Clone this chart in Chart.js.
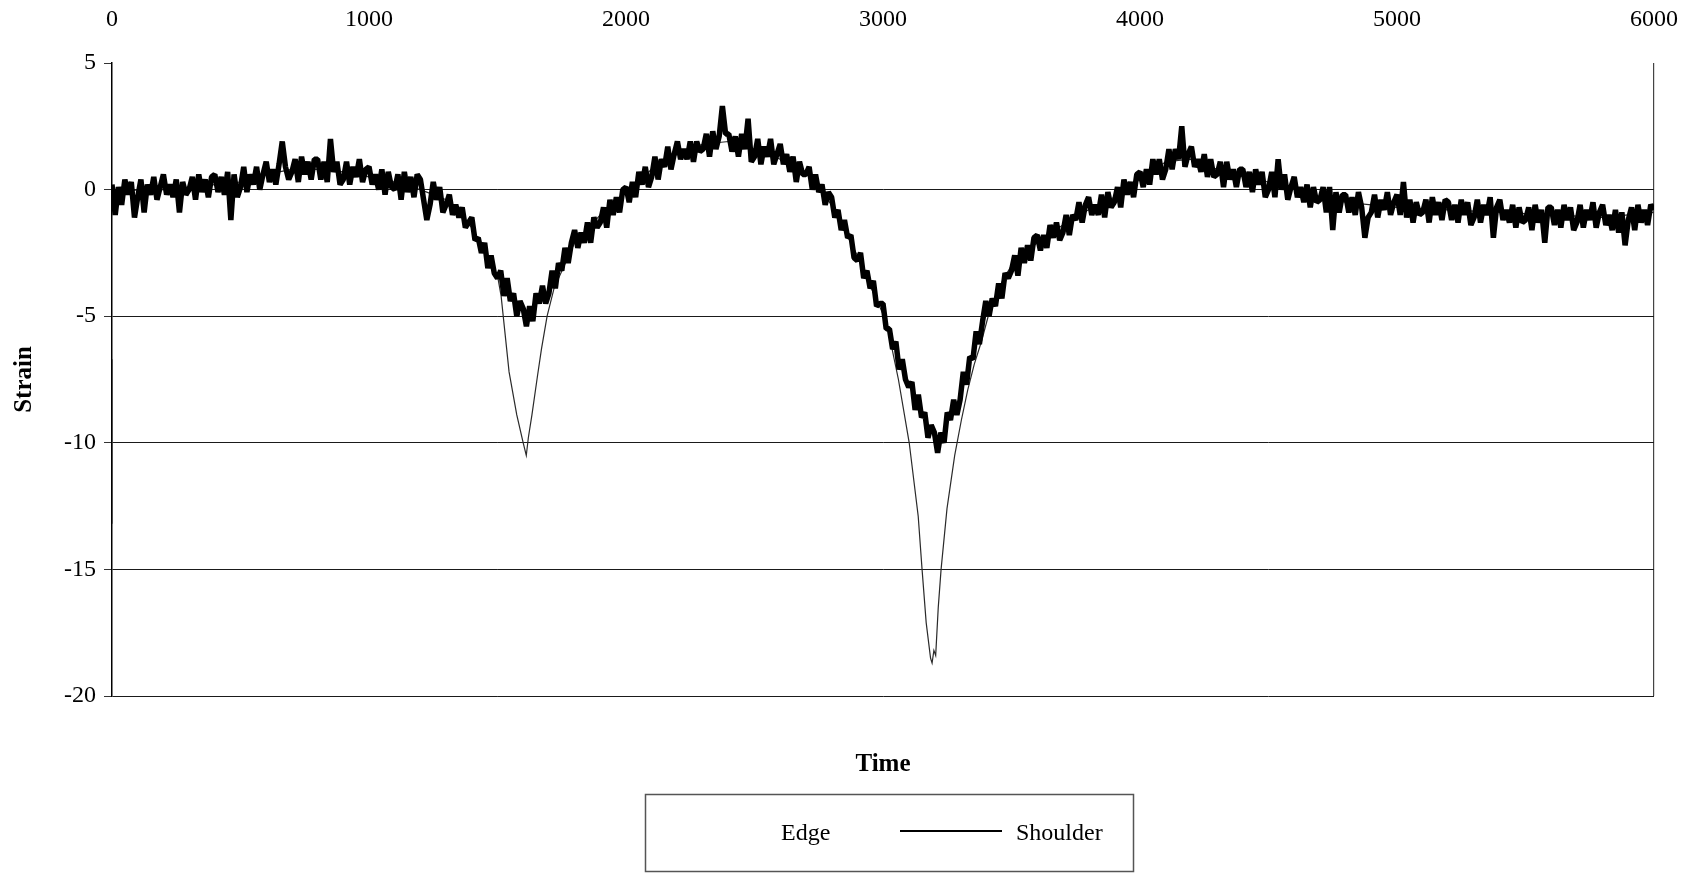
<!DOCTYPE html>
<html lang="en">
<head>
  <meta charset="UTF-8">
  <title>Strain vs Time</title>
  <script src="https://cdn.jsdelivr.net/npm/chart.js"></script>
  <style>
    body { margin: 0; background: #fff; }
    canvas { display: block; }
  </style>
</head>
<body>
  <canvas id="graph" width="1707" height="873"></canvas>

  <script>
    // Shoulder gauge, one reading every 12.5 time units from 0 to 6000 (8 per row = 100 units)
    const shoulderStep = 12.5;
    const shoulderStrain = [
      0.2, -1.0, 0.1, -0.6, 0.4, -0.2, 0.3, -1.1,
      -0.3, 0.4, -0.9, 0.2, -0.2, 0.5, -0.4, 0.1,
      0.6, -0.2, 0.2, -0.3, 0.4, -0.9, 0.3, -0.2,
      0.0, 0.5, -0.4, 0.6, -0.1, 0.4, -0.3, 0.5,
      0.6, -0.1, 0.5, -0.2, 0.7, -1.2, 0.6, -0.3,
      0.1, 0.9, -0.1, 0.6, 0.2, 0.9, 0.0, 0.6,
      1.1, 0.3, 0.8, 0.2, 1.0, 1.9, 0.9, 0.4,
      0.7, 1.2, 0.3, 1.3, 0.6, 1.1, 0.4, 1.2,
      1.2, 0.4, 1.1, 0.3, 2.0, 0.7, 1.1, 0.2,
      0.4, 1.1, 0.2, 0.9, 0.5, 1.2, 0.3, 0.8,
      0.9, 0.2, 0.6, 0.0, 0.8, -0.2, 0.7, 0.1,
      0.0, 0.6, -0.4, 0.7, -0.1, 0.5, -0.3, 0.6,
      0.4, -0.4, -1.2, -0.6, 0.3, -0.4, 0.1, -0.9,
      -0.6, -0.2, -1.0, -0.6, -1.1, -0.7, -1.5, -1.3,
      -1.1, -2.0, -1.9, -2.5, -2.1, -3.1, -2.6, -3.3,
      -3.5, -3.2, -4.2, -3.5, -4.4, -4.1, -5.0, -4.4,
      -4.7, -5.4, -4.6, -5.2, -4.1, -4.5, -3.8, -4.5,
      -4.1, -3.2, -3.9, -2.9, -3.2, -2.3, -2.9, -2.1,
      -1.6, -2.3, -1.7, -2.1, -1.3, -2.1, -1.1, -1.5,
      -1.3, -0.7, -1.5, -0.4, -1.0, -0.3, -0.9, 0.0,
      0.1, -0.5, 0.3, -0.3, 0.7, 0.2, 0.9, 0.1,
      0.5, 1.3, 0.4, 1.2, 0.9, 1.7, 0.8, 1.4,
      1.9, 1.2, 1.6, 1.2, 1.9, 1.1, 1.9, 1.5,
      1.6, 2.2, 1.3, 2.3, 1.6, 2.1, 3.3, 2.2,
      2.2, 1.5, 2.1, 1.3, 2.2, 1.6, 2.8, 1.1,
      1.3, 2.0, 1.0, 1.7, 1.3, 2.0, 1.0, 1.4,
      1.8, 1.0, 1.4, 0.7, 1.3, 0.3, 1.1, 0.6,
      0.6, 0.9, 0.0, 0.6, -0.1, 0.2, -0.6, -0.1,
      -0.3, -1.1, -0.8, -1.6, -1.2, -1.9, -1.8, -2.7,
      -2.8, -2.5, -3.5, -3.2, -3.9, -3.6, -4.6, -4.5,
      -4.5, -5.5, -5.5, -6.3, -6.0, -7.1, -6.7, -7.5,
      -7.8, -7.6, -8.7, -8.1, -9.0, -8.8, -9.8, -9.3,
      -9.6, -10.4, -9.6, -10.0, -8.8, -9.1, -8.3, -8.9,
      -8.3, -7.2, -7.7, -6.6, -6.7, -5.6, -6.1, -5.2,
      -4.4, -5.0, -4.3, -4.6, -3.7, -4.3, -3.3, -3.5,
      -3.2, -2.6, -3.4, -2.3, -2.9, -2.2, -2.8, -1.9,
      -1.8, -2.4, -1.8, -2.3, -1.4, -1.9, -1.3, -2.0,
      -1.7, -1.0, -1.8, -1.0, -1.2, -0.5, -1.3, -0.6,
      -0.3, -1.0, -0.6, -1.0, -0.2, -1.1, -0.1, -0.7,
      -0.5, 0.1, -0.7, 0.4, -0.2, 0.3, -0.3, 0.6,
      0.7, 0.1, 0.8, 0.2, 1.2, 0.6, 1.2, 0.4,
      0.8, 1.6, 0.8, 1.6, 1.2, 2.5, 0.9, 1.4,
      1.7, 0.9, 1.2, 0.7, 1.4, 0.5, 1.2, 0.5,
      0.6, 1.1, 0.1, 1.1, 0.4, 0.8, 0.1, 0.8,
      0.8, 0.1, 0.7, -0.1, 0.8, 0.2, 0.7, -0.3,
      0.0, 0.7, -0.3, 1.2, 0.0, 0.6, -0.4, 0.1,
      0.5, -0.3, 0.1, -0.5, 0.2, -0.7, 0.1, -0.5,
      -0.4, 0.1, -0.9, 0.1, -1.6, -0.1, -0.9, -0.2,
      -0.2, -0.9, -0.3, -1.0, -0.1, -0.7, -1.9, -1.1,
      -0.9, -0.2, -1.1, -0.4, -0.8, -0.1, -1.0, -0.5,
      -0.2, -1.0, 0.3, -1.1, -0.4, -1.3, -0.5, -1.0,
      -0.9, -0.4, -1.3, -0.3, -1.0, -0.5, -1.2, -0.4,
      -0.5, -1.2, -0.6, -1.3, -0.4, -1.0, -0.5, -1.4,
      -1.1, -0.4, -1.3, -0.6, -1.0, -0.3, -1.9, -0.7,
      -0.4, -1.2, -0.8, -1.3, -0.6, -1.5, -0.7, -1.3,
      -1.2, -0.7, -1.6, -0.6, -1.3, -0.8, -2.1, -0.7,
      -0.7, -1.4, -0.8, -1.5, -0.6, -1.2, -0.7, -1.6,
      -1.3, -0.6, -1.5, -0.8, -1.2, -0.5, -1.5, -0.9,
      -0.6, -1.4, -1.0, -1.6, -0.8, -1.7, -0.9, -2.2,
      -1.2, -0.7, -1.6, -0.6, -1.3, -0.8, -1.4, -0.6,
      -0.8
    ];

    // Edge gauge, irregular sampling (denser through the two troughs)
    const edgeTime = [
      0, 0, 1, 10, 100, 200, 300, 400, 500, 600, 700, 800, 900, 1000, 1100, 1200,
      1300, 1400, 1450, 1500, 1514, 1545, 1575, 1600, 1612, 1620, 1634, 1655, 1671,
      1693, 1720, 1760, 1800, 1900, 2000, 2100, 2200, 2300, 2400, 2500, 2600, 2700,
      2800, 2900, 2950, 3013, 3060, 3102, 3137, 3152, 3168, 3185, 3191, 3198, 3205,
      3215, 3226, 3249, 3279, 3305, 3330, 3355, 3383, 3420, 3470, 3500, 3600, 3700,
      3800, 3900, 4000, 4100, 4200, 4300, 4400, 4500, 4600, 4700, 4800, 4900, 5000,
      5200, 5400, 5600, 5800, 6000
    ];
    const edgeStrain = [
      -13.2, -6.7, null, -0.2, 0.0, 0.0, 0.1, 0.2, 0.3, 0.6, 0.8, 0.8, 0.7, 0.5, 0.3, 0.0,
      -0.4, -1.5, -2.4, -3.4, -4.2, -7.2, -8.9, -10.0, -10.5, -9.8, -8.9, -7.4, -6.3,
      -5.0, -3.9, -3.0, -2.1, -1.0, -0.1, 0.8, 1.4, 1.8, 1.9, 1.6, 1.2, 0.7,
      -0.6, -2.6, -3.8, -5.2, -7.5, -10.0, -12.9, -15.0, -17.1, -18.5, -18.7, -18.2, -18.4,
      -16.5, -15.0, -12.6, -10.5, -9.1, -7.9, -6.9, -6.0, -4.6, -3.5, -3.0, -2.1, -1.4,
      -0.8, -0.3, 0.4, 1.1, 1.2, 0.8, 0.5, 0.3, 0.0, -0.3, -0.5, -0.6, -0.7,
      -0.8, -0.9, -1.0, -1.1, -0.9
    ];

    const seriesNames = ["Edge", "Shoulder"];
    const timeTicks = [0, 1000, 2000, 3000, 4000, 5000, 6000];
    const strainTicks = [5, 0, -5, -10, -15, -20];

    const serif = "'Liberation Serif', 'Times New Roman', serif";

    const shoulderPoints = shoulderStrain.map((v, i) => ({ x: i * shoulderStep, y: v }));
    const edgePoints = edgeTime.map((t, i) => ({ x: t, y: edgeStrain[i] }));

    // Boxed legend under the "Time" title
    const legendBox = {
      id: "legendBox",
      afterDraw(chart) {
        const ctx = chart.ctx;
        ctx.save();
        ctx.strokeStyle = "#555";
        ctx.lineWidth = 1.5;
        ctx.strokeRect(645.5, 794.5, 488, 77);

        ctx.font = "24px " + serif;
        ctx.fillStyle = "#000";
        ctx.textBaseline = "middle";
        ctx.fillText(seriesNames[0], 781, 834);

        ctx.strokeStyle = "#000";
        ctx.lineWidth = 2;
        ctx.beginPath();
        ctx.moveTo(900, 831);
        ctx.lineTo(1002, 831);
        ctx.stroke();
        ctx.fillText(seriesNames[1], 1016, 834);
        ctx.restore();
      }
    };

    const ctx = document.getElementById("graph").getContext("2d");
    const chart = new Chart(ctx, {
      type: "line",
      data: {
        datasets: [
          {
            label: seriesNames[0],
            data: edgePoints,
            borderColor: "#2a2a2a",
            borderWidth: 1.2,
            pointRadius: 0,
            spanGaps: false,
            order: 1
          },
          {
            label: seriesNames[1],
            data: shoulderPoints,
            borderColor: "#000",
            borderWidth: 5.5,
            borderJoinStyle: "bevel",
            pointRadius: 0,
            order: 0
          }
        ]
      },
      options: {
        responsive: false,
        animation: false,
        events: [],
        layout: { padding: 0 },
        plugins: {
          legend: { display: false },
          tooltip: { enabled: false }
        },
        scales: {
          x: {
            type: "linear",
            position: "top",
            min: 0,
            max: 6000,
            afterBuildTicks: axis => { axis.ticks = timeTicks.map(v => ({ value: v })); },
            afterFit: axis => { axis.height = 63; },
            ticks: {
              color: "#000",
              font: { family: serif, size: 24 },
              padding: 29,
              maxRotation: 0,
              callback: v => String(v)
            },
            grid: {
              drawTicks: false,
              color: c => (c.tick && c.tick.value === 6000 ? "#444" : "rgba(0,0,0,0)"),
              lineWidth: 1.2
            },
            border: { display: false }
          },
          xTitle: {
            type: "linear",
            position: "bottom",
            afterFit: axis => { axis.height = 177; },
            ticks: { display: false },
            grid: { display: false },
            border: { display: false },
            title: {
              display: true,
              text: "Time",
              color: "#000",
              font: { family: serif, size: 25, weight: "bold" },
              padding: { top: 0, bottom: 93 }
            }
          },
          y: {
            min: -20,
            max: 5,
            afterBuildTicks: axis => { axis.ticks = strainTicks.map(v => ({ value: v })); },
            afterFit: axis => { axis.width = 112; },
            ticks: {
              color: "#000",
              font: { family: serif, size: 24 },
              padding: 8
            },
            grid: {
              color: c => (c.tick && c.tick.value === 5 ? "rgba(0,0,0,0)" : "#1a1a1a"),
              tickColor: "#333",
              tickLength: 8,
              lineWidth: 1
            },
            border: { display: true, color: "#000", width: 1.5 },
            title: {
              display: true,
              text: "Strain",
              color: "#000",
              font: { family: serif, size: 25, weight: "bold" },
              padding: { top: 10, bottom: 0 }
            }
          }
        }
      },
      plugins: [legendBox]
    });
  </script>
</body>
</html>
